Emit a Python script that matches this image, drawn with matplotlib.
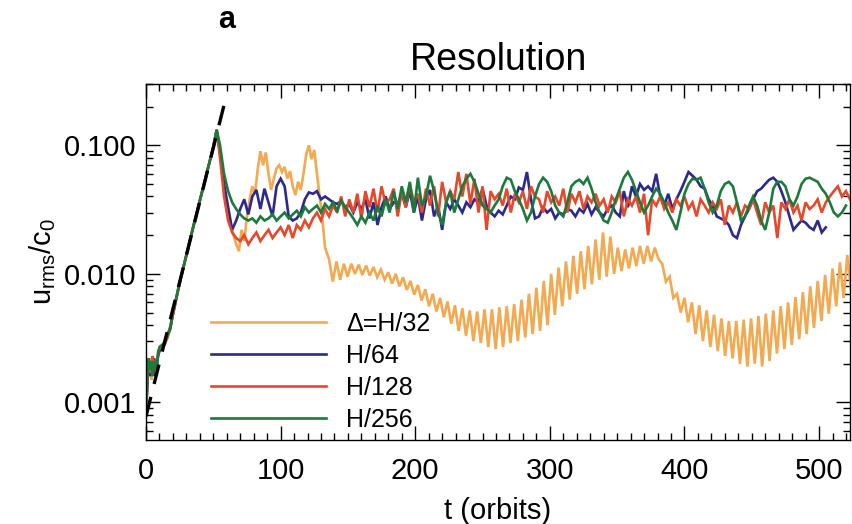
import numpy as np
import matplotlib
matplotlib.use("Agg")
import matplotlib.pyplot as plt
from matplotlib.ticker import LogLocator, FixedLocator, MultipleLocator, NullFormatter

plt.rcParams['font.family'] = ['Liberation Sans', 'DejaVu Sans']
plt.rcParams['mathtext.fontset'] = 'custom'
plt.rcParams['mathtext.rm'] = 'Liberation Sans'
plt.rcParams['mathtext.it'] = 'Liberation Sans'

# ---------------- data (values in units of 1e-3) ----------------
t_growth = [0, 1.5, 2, 3, 4, 5, 6, 7, 8, 9, 10, 12, 14, 16, 18, 20, 25, 30, 35, 40, 45, 50, 52.5]
v32_growth = [0.8, 2.0, 1.6, 2.2, 1.5, 2.1, 1.9, 1.7, 1.8, 2.4, 2.6, 2.7, 2.8, 3.2, 3.8, 4.8, 8.5, 14, 23, 37, 60, 97, 132]
v64_growth = [0.8, 1.8, 2.1, 1.6, 2.0, 1.8, 2.2, 1.6, 2.0, 2.3, 2.5, 2.8, 2.9, 3.3, 3.7, 4.9, 8.6, 14, 23, 37, 60, 97, 132]
v128_growth = [0.8, 2.2, 1.7, 2.1, 1.7, 2.3, 1.8, 1.9, 1.7, 2.5, 2.6, 2.7, 3.0, 3.2, 3.9, 4.8, 8.4, 14, 23, 37, 60, 97, 132]
v256_growth = [0.8, 1.9, 2.2, 1.8, 2.1, 1.6, 2.0, 2.1, 1.8, 2.4, 2.7, 2.8, 2.9, 3.4, 3.8, 5.0, 8.5, 14, 23, 37, 60, 97, 132]

# Delta = H/32: transition phase
t32_mid = [55, 57, 59, 61, 63, 65, 67, 69, 71, 73, 75, 77, 79, 81, 83, 85, 87, 89, 91, 93, 95, 97,
           99, 101, 103, 105, 107, 109, 111, 113, 115, 117, 119, 121, 123, 125, 127, 129, 131, 133]
v32_mid = [85, 55, 40, 30, 24, 20, 17, 15, 22, 18, 28, 38, 48, 42, 65, 90, 70, 88, 60, 45, 55, 66,
           70, 62, 68, 55, 63, 48, 41, 52, 45, 60, 85, 100, 78, 92, 60, 40, 27, 16]
# Delta = H/32: oscillating decay, sampled every 2.75 orbits from t = 136
t32_late_start = 136
t32_late_step = 2.75
v32_late = [13, 8.7, 12.5, 9, 12, 9.5, 12, 10, 11.8, 9.8, 11.6, 9.7, 11.3, 9.4, 10.8, 9, 10.3, 8.4,
            10, 8, 9.4, 7.5, 8.8, 6.9, 8.2, 6.2, 7.6, 5.6, 7, 5.1, 6.5, 4.6, 6.1, 4.1, 5.7, 3.6,
            5.4, 3.3, 5.2, 3.0, 5.1, 2.9, 5.3, 2.7, 5.3, 2.6, 5.5, 2.7, 5.6, 2.9, 5.8, 3.0, 6.3, 3.2,
            7, 3.4, 7.8, 3.6, 8.8, 4, 10, 4.8, 11.2, 5.6, 12.5, 6.3, 13.8, 7, 15, 7.6, 16.5, 8.3,
            18.5, 9, 21, 9.5, 19.5, 10, 16, 10.5, 15.5, 11, 16, 11.5, 16.5, 12, 16.5, 12.5, 16, 13,
            12, 8.7, 9.5, 6.5, 7, 5, 6.5, 4.2, 6, 3.4, 5.7, 3, 5.2, 2.7, 4.8, 2.5, 4.5, 2.3,
            4.3, 2.2, 4.3, 2.0, 4.4, 1.9, 4.5, 2.0, 4.7, 1.9, 4.9, 2.1, 5.2, 2.4, 5.6, 2.6, 6, 2.8,
            6.6, 3.1, 7.2, 3.4, 8, 3.8, 8.8, 4.3, 9.8, 4.9, 11, 5.6, 12.3, 6.5, 14, 7.5]

# Other resolutions: sampled every 3 orbits from t = 55
t_late_start = 55
t_late_step = 3
v64_late = [90, 50, 33, 22, 26, 32, 38, 29, 40, 45, 32, 46, 36, 28, 48, 55, 48, 28, 26, 27,
            30, 38, 43, 42, 44, 38, 40, 38, 36, 35, 37, 33, 35, 30, 36, 32, 38, 27, 36, 24,
            33, 40, 32, 36, 35, 42, 33, 44, 30, 40, 26, 38, 45, 28, 34, 22, 36, 32, 38, 34,
            30, 36, 33, 38, 36, 46, 34, 30, 28, 31, 29, 34, 40, 38, 47, 45, 62, 38, 27, 28,
            33, 30, 32, 27, 30, 29, 32, 31, 28, 32, 30, 35, 29, 33, 30, 28, 32, 34, 30, 28,
            44, 33, 48, 40, 50, 45, 48, 44, 60, 40, 34, 42, 32, 38, 44, 52, 62, 58, 54, 48,
            46, 38, 34, 28, 27, 26, 24, 20, 19, 24, 28, 32, 38, 44, 46, 50, 54, 56, 52, 44,
            36, 28, 22, 24, 26, 25, 23, 22, 26, 21, 23]
v128_late = [80, 40, 26, 21, 19, 18, 20, 17, 19, 21, 18, 20, 22, 19, 21, 23, 20, 24, 19, 24,
             22, 26, 23, 27, 30, 26, 32, 28, 34, 30, 40, 28, 38, 30, 42, 27, 44, 33, 46, 30,
             48, 35, 38, 46, 28, 44, 33, 50, 36, 42, 30, 46, 34, 48, 28, 52, 36, 44, 38, 62,
             40, 60, 35, 55, 30, 48, 22, 44, 38, 42, 34, 46, 30, 42, 36, 44, 32, 48, 40, 38,
             30, 44, 36, 40, 34, 46, 30, 42, 36, 44, 32, 40, 36, 42, 34, 38, 30, 40, 36, 44,
             28, 38, 34, 40, 30, 42, 20, 38, 34, 40, 32, 36, 30, 38, 34, 40, 32, 36, 28, 38,
             34, 30, 36, 32, 38, 24, 34, 30, 36, 28, 34, 32, 38, 30, 24, 36, 30, 34, 19, 36,
             32, 38, 30, 34, 26, 36, 32, 34, 38, 30, 36, 40, 44, 48, 40, 44, 38]
v256_late = [100, 60, 44, 36, 32, 29, 27, 26, 27, 25, 28, 26, 27, 29, 26, 28, 30, 27, 29, 31,
             28, 33, 30, 32, 34, 30, 35, 32, 36, 31, 37, 33, 30, 27, 24, 28, 25, 30, 26, 34,
             28, 38, 30, 44, 32, 48, 36, 52, 30, 56, 34, 40, 58, 44, 30, 24, 36, 44, 30, 38,
             48, 55, 60, 52, 42, 34, 32, 30, 34, 38, 48, 56, 54, 44, 38, 32, 26, 30, 40, 50,
             56, 52, 44, 34, 30, 28, 36, 48, 52, 54, 50, 56, 46, 36, 30, 26, 25, 30, 38, 46,
             56, 62, 54, 44, 36, 30, 34, 40, 46, 42, 36, 30, 26, 22, 30, 42, 50, 55, 54, 56,
             46, 36, 30, 34, 44, 50, 52, 48, 36, 26, 28, 34, 40, 34, 26, 22, 30, 46, 52, 52,
             48, 38, 34, 40, 50, 55, 56, 54, 52, 46, 42, 36, 30, 28, 30, 34]

# dashed reference growth line (end points)
t_fit = [0, 60]
v_fit = [0.78, 250]

labels = ['\u0394=H/32', 'H/64', 'H/128', 'H/256']
colors = ['#F2A950', '#2B2A8A', '#E5482B', '#1C7A3C']

# ---------------- build series ----------------
scale = 1e-3
t32 = np.concatenate([t_growth, t32_mid,
                      t32_late_start + t32_late_step * np.arange(len(v32_late))])
v32 = np.concatenate([v32_growth, v32_mid, v32_late]) * scale

def late_t(vals):
    return t_late_start + t_late_step * np.arange(len(vals))

t64 = np.concatenate([t_growth, late_t(v64_late)])
v64 = np.concatenate([v64_growth, v64_late]) * scale
t128 = np.concatenate([t_growth, late_t(v128_late)])
v128 = np.concatenate([v128_growth, v128_late]) * scale
t256 = np.concatenate([t_growth, late_t(v256_late)])
v256 = np.concatenate([v256_growth, v256_late]) * scale

# ---------------- figure ----------------
fig = plt.figure(figsize=(8.52, 5.24), dpi=100)
ax = fig.add_axes([146/852, 1-440/524, (850-146)/852, (440-84)/524])

lw = 1.9
for (tt, vv), c, lab in zip([(t32, v32), (t64, v64), (t128, v128), (t256, v256)], colors, labels):
    ax.plot(tt, vv, color=c, lw=lw, label=lab, solid_joinstyle='miter')

ax.plot(np.array(t_fit), np.array(v_fit) * scale, color='black', lw=2.4,
        dashes=(6, 4), zorder=5)

ax.set_yscale('log')
ax.set_xlim(0, 523)
ax.set_ylim(5.1e-4, 0.3)

ax.xaxis.set_major_locator(MultipleLocator(100))
ax.xaxis.set_minor_locator(MultipleLocator(10))
ax.yaxis.set_major_locator(FixedLocator([0.001, 0.01, 0.1]))
ax.yaxis.set_minor_locator(LogLocator(base=10, subs=np.arange(2, 10)))
ax.yaxis.set_minor_formatter(NullFormatter())
ax.set_yticklabels(['0.001', '0.010', '0.100'])

ax.tick_params(which='both', direction='in', top=True, right=True, labelsize=21, width=1.0)
ax.tick_params(which='major', length=10)
ax.tick_params(axis='x', which='major', pad=12)
ax.tick_params(axis='y', which='major', pad=7)
ax.tick_params(which='minor', length=5)
for s in ax.spines.values():
    s.set_linewidth(1.0)

ax.set_xlabel('t (orbits)', fontsize=21, labelpad=9)
ax.set_ylabel(r'$\mathregular{u_{rms}/c_0}$', fontsize=21, labelpad=4)
ax.set_title('Resolution', fontsize=27, pad=10)
fig.text(227/852, 1-20/524, 'a', fontsize=22, fontweight='bold', ha='center', va='center')

leg = ax.legend(loc='upper left', bbox_to_anchor=(55/704, 1-(302-84)/356), frameon=False,
                fontsize=18, handlelength=4.6, handletextpad=0.8, labelspacing=0.32,
                borderaxespad=0)

fig.savefig('out.png', dpi=100)
